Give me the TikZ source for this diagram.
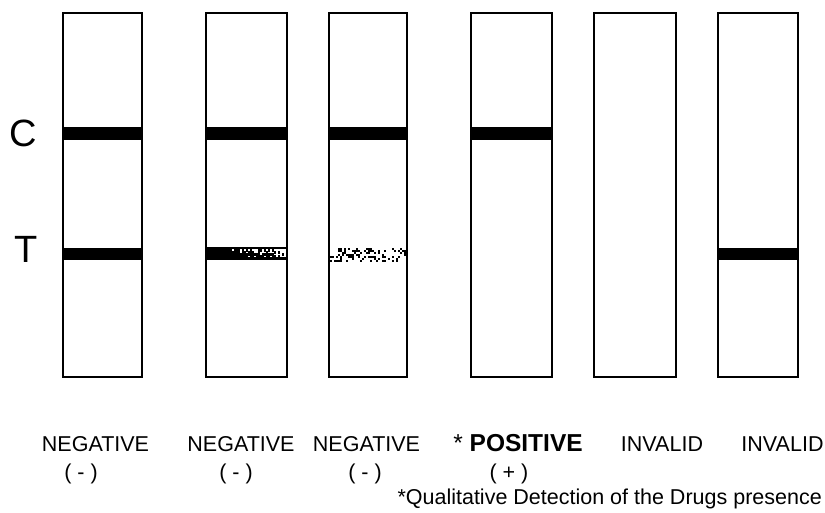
\documentclass[tikz,border=0pt]{standalone}
\usepackage{fontspec}
\setmainfont{Liberation Sans}
\begin{document}
\begin{tikzpicture}[x=1pt,y=-1pt,
  strip/.style={draw=black,line width=2pt,fill=white},
  band/.style={fill=black},
  lbl/.style={anchor=base,inner sep=0pt,font=\fontsize{21.5}{24}\selectfont},
  bold lbl/.style={anchor=base,inner sep=0pt,font=\fontsize{24.5}{28}\selectfont\bfseries},
  big lbl/.style={anchor=base,inner sep=0pt,font=\fontsize{38}{40}\selectfont}]
\useasboundingbox (0,0) rectangle (825,513);
% strips
\foreach \l/\r [count=\k] in {63/142,206/287,329/407,471/552,594/676,718/798}{
  \draw[strip] (\l,13) rectangle (\r,377);
}
% control lines
\foreach \l/\r in {63/142,206/287,329/407,471/552}{
  \fill[band] (\l,127) rectangle (\r,140);
}
% test lines (solid)
\foreach \l/\r in {63/142,718/798}{
  \fill[band] (\l,248) rectangle (\r,260);
}
% faint test line, strip 2
\pgfmathsetseed{7}
\fill[band] (206,247) rectangle (287,249.5);
\fill[band] (206,257.5) rectangle (287,260);
\fill[band] (206,249) rectangle (214,258);
\foreach \i in {0,...,36}{
  \foreach \j in {0,...,3}{
    \pgfmathtruncatemacro\hit{rnd<(1.3-1.1*(\i/36)^1.5-0.12*(3-\j))}
    \ifnum\hit=1
      \fill[band] ({214+2*\i},{249.5+2*\j}) rectangle ++(2.2,2.2);
    \fi
  }
}
% very faint test line, strip 3
\pgfmathsetseed{11}
\foreach \i in {0,...,37}{
  \foreach \j in {0,...,6}{
    \pgfmathtruncatemacro\hit{rnd<0.3}
    \ifnum\hit=1
      \fill[band] ({330+2*\i},{248+2*\j}) rectangle ++(2,2);
    \fi
  }
}
% side labels
\node[big lbl] (C) at (23.5,147) {C};
\node[big lbl] (T) at (26,262) {T};
% result labels
\node[lbl] (n1) at (95.5,451) {NEGATIVE};
\node[lbl] (n2) at (241,451) {NEGATIVE};
\node[lbl] (n3) at (366.5,451) {NEGATIVE};
\node[bold lbl] (p) at (518,451) {\mdseries*\ \bfseries POSITIVE};
\node[lbl] (i1) at (662,451) {INVALID};
\node[lbl] (i2) at (782.5,451) {INVALID};
\node[lbl] (m1) at (81,479) {( - )};
\node[lbl] (m2) at (236,479) {( - )};
\node[lbl] (m3) at (365,479) {( - )};
\node[lbl] (pl) at (509,479) {( + )};
\node[lbl,anchor=base east] (fn) at (822,504) {*Qualitative Detection of the Drugs presence};
\end{tikzpicture}
\end{document}
